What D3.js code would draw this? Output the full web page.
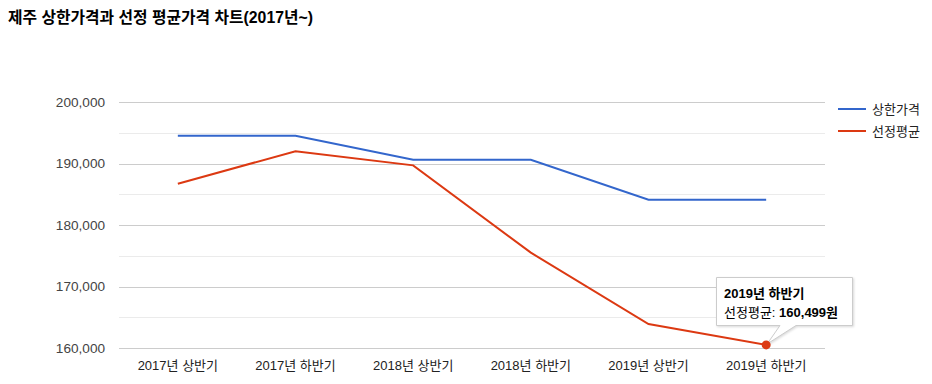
<!DOCTYPE html>
<html><head><meta charset="utf-8">
<script src="https://cdn.jsdelivr.net/npm/d3@7"></script>
<style>
body{margin:0;background:#fff;}
svg{display:block;}
text{font-family:"Liberation Sans",Arial,"Noto Sans CJK KR",sans-serif;}
</style></head>
<body><svg id="c" width="932" height="384"></svg>
<script>
const title = "제주 상한가격과 선정 평균가격 차트(2017년~)";
const categories = ["2017년 상반기","2017년 하반기","2018년 상반기","2018년 하반기","2019년 상반기","2019년 하반기"];
const seriesNames = ["상한가격","선정평균"];
const upperPrice = [194500,194500,190600,190600,184100,184100];
const avgPrice = [186700,192000,189700,175500,163900,160499];
const yTicks = [160000,170000,180000,190000,200000];
const yMinorTicks = [165000,175000,185000,195000];
const colors = ["#3366cc","#dc3912"];

const svg = d3.select("#c");
const x = d3.scalePoint().domain(categories).range([119,825]).padding(0.5);
const y = d3.scaleLinear().domain([160000,200000]).range([348,102]);

svg.append("text").attr("x",8).attr("y",23).attr("font-size",15.8).attr("font-weight","bold").attr("fill","#000").text(title);

// gridlines
svg.append("g").selectAll("line").data(yMinorTicks).join("line")
  .attr("x1",119).attr("x2",825).attr("y1",d=>Math.round(y(d))+0.5).attr("y2",d=>Math.round(y(d))+0.5)
  .attr("stroke","#ebebeb");
svg.append("g").selectAll("line").data(yTicks).join("line")
  .attr("x1",119).attr("x2",825).attr("y1",d=>Math.round(y(d))+0.5).attr("y2",d=>Math.round(y(d))+0.5)
  .attr("stroke","#cccccc");

// y labels
const fmt = d3.format(",");
svg.append("g").selectAll("text").data(yTicks).join("text")
  .attr("x",105).attr("y",d=>y(d)+4.5).attr("text-anchor","end").attr("font-size",13.6).attr("fill","#444")
  .text(d=>fmt(d));

// x labels
svg.append("g").selectAll("text").data(categories).join("text")
  .attr("x",d=>x(d)).attr("y",370).attr("text-anchor","middle").attr("font-size",13).attr("fill","#222")
  .text(d=>d);

const line = d3.line().x((d,i)=>x(categories[i])).y(d=>y(d));
[upperPrice, avgPrice].forEach((s,k)=>{
  svg.append("path").datum(s).attr("d",line).attr("fill","none").attr("stroke",colors[k]).attr("stroke-width",2);
});

// legend
seriesNames.forEach((n,k)=>{
  const ly = 109 + k*22;
  svg.append("line").attr("x1",838).attr("x2",866).attr("y1",ly).attr("y2",ly).attr("stroke",colors[k]).attr("stroke-width",2);
  svg.append("text").attr("x",872).attr("y",ly+4.5).attr("font-size",13).attr("fill","#222").text(n);
});

// highlighted point + tooltip
const last = categories.length-1;
const px = x(categories[last]), py = y(avgPrice[last]);
const tip = svg.append("g");
tip.append("path")
  .attr("d",`M716.5,277.5 H852.5 V325.5 H796 L${px+1},${py-1} L780,325.5 H716.5 Z`)
  .attr("fill","#fff").attr("stroke","#cccccc").attr("stroke-width",1)
  .style("filter","drop-shadow(1px 1px 1px rgba(0,0,0,0.15))");
tip.append("text").attr("x",724).attr("y",298).attr("font-size",13).attr("font-weight","bold").attr("fill","#000").text(categories[last]);
const t2 = tip.append("text").attr("x",724).attr("y",317).attr("font-size",13).attr("fill","#000");
t2.append("tspan").text(seriesNames[1]+": ");
t2.append("tspan").attr("font-weight","bold").text(fmt(avgPrice[last])+"원");
svg.append("circle").attr("cx",px).attr("cy",py).attr("r",4.5).attr("fill",colors[1]);
</script></body></html>
